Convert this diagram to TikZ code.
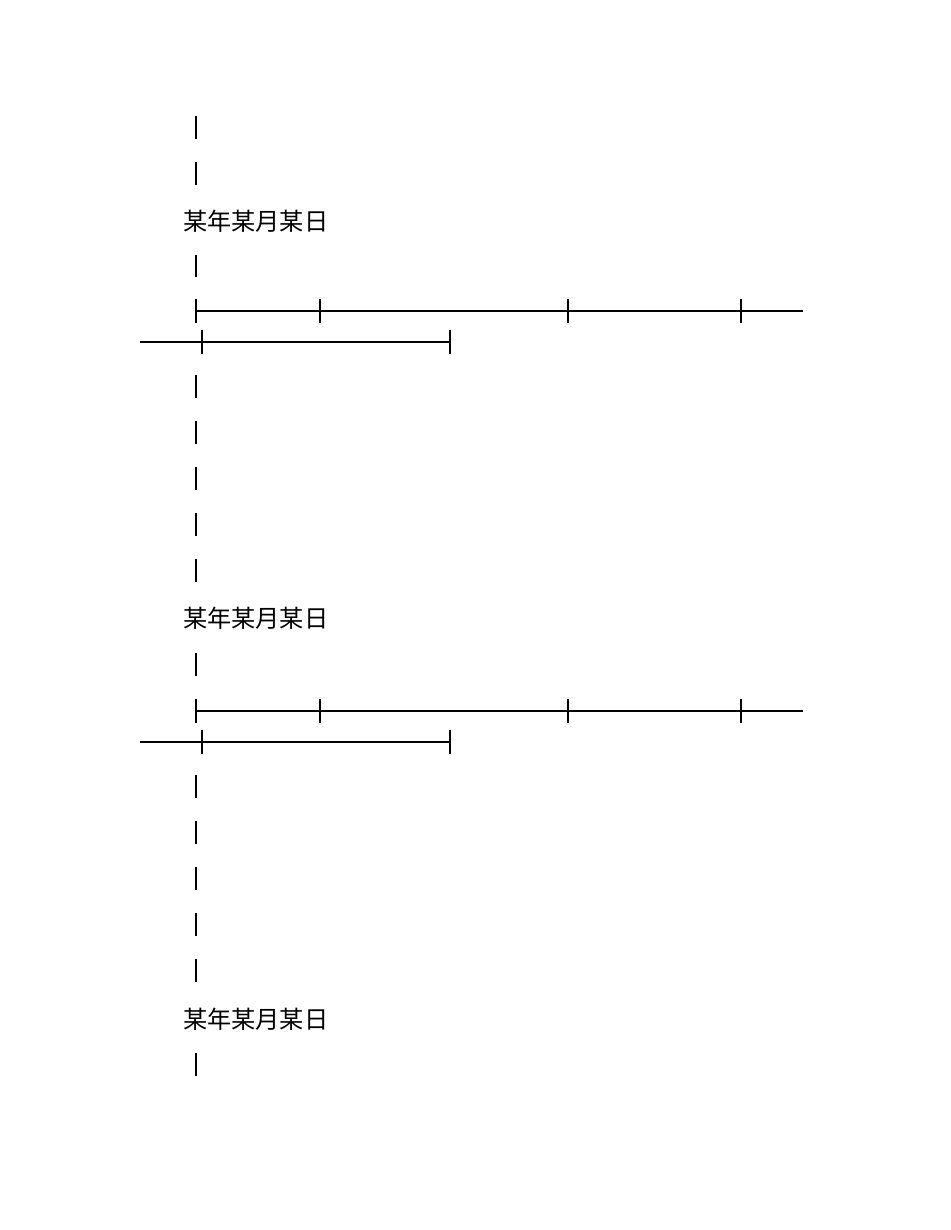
\documentclass[tikz,border=0pt]{standalone}
\usepackage{fontspec}
\newfontfamily\cjk{Noto Sans CJK SC}
\usepackage{tikz}
\tikzset{>=latex}

\begin{document}
\begin{tikzpicture}[x=0.6442pt, y=-0.6442pt]
        % page, 950 x 1230 (one unit = one pixel of the scan)
        \useasboundingbox (0,0) rectangle (950,1230);
        \tikzstyle{every node}=[inner sep=0pt, outer sep=0pt]
        \tikzstyle{datum}=[anchor=west, font=\cjk\fontsize{15.6pt}{18pt}\selectfont]
        \tikzstyle{tickmark}=[fill=black, minimum width=1.35pt, minimum height=15.5pt]
        \tikzstyle{axis}=[black, line width=1.3pt]
        \tikzstyle{dashrun}=[black, line width=1.3pt, dash pattern=on 15.1pt off 14.5pt]

        % first date
        \coordinate (r1s) at (196,116);
        \coordinate (r1e) at (196,185);
        \draw[dashrun] (r1s) -- (r1e);
        \node[datum] (D1) at (183,221) {某年某月某日};
        \coordinate (r2s) at (196,255);
        \coordinate (r2e) at (196,277);
        \draw[dashrun] (r2s) -- (r2e);

        % first pair of time lines
        \node[tickmark] (A1) at (196,311) {};
        \node[tickmark] (B1) at (320,311) {};
        \node[tickmark] (C1) at (568,311) {};
        \node[tickmark] (E1) at (741,311) {};
        \coordinate (a1e) at (803,311);
        \draw[axis] (A1.center) -- (a1e);
        \coordinate (b1s) at (140,342);
        \node[tickmark] (F1) at (202,342) {};
        \node[tickmark] (G1) at (450,342) {};
        \draw[axis] (b1s) -- (G1.center);

        % second date
        \coordinate (r3s) at (196,375);
        \coordinate (r3e) at (196,584);
        \draw[dashrun] (r3s) -- (r3e);
        \node[datum] (D2) at (183,618.5) {某年某月某日};
        \coordinate (r4s) at (196,653);
        \coordinate (r4e) at (196,677);
        \draw[dashrun] (r4s) -- (r4e);

        % second pair of time lines
        \node[tickmark] (A2) at (196,711) {};
        \node[tickmark] (B2) at (320,711) {};
        \node[tickmark] (C2) at (568,711) {};
        \node[tickmark] (E2) at (741,711) {};
        \coordinate (a2e) at (803,711);
        \draw[axis] (A2.center) -- (a2e);
        \coordinate (b2s) at (140,742);
        \node[tickmark] (F2) at (202,742) {};
        \node[tickmark] (G2) at (450,742) {};
        \draw[axis] (b2s) -- (G2.center);

        % third date
        \coordinate (r5s) at (196,775);
        \coordinate (r5e) at (196,984);
        \draw[dashrun] (r5s) -- (r5e);
        \node[datum] (D3) at (183,1019) {某年某月某日};
        \coordinate (r6s) at (196,1053);
        \coordinate (r6e) at (196,1076);
        \draw[dashrun] (r6s) -- (r6e);
\end{tikzpicture}
\end{document}
